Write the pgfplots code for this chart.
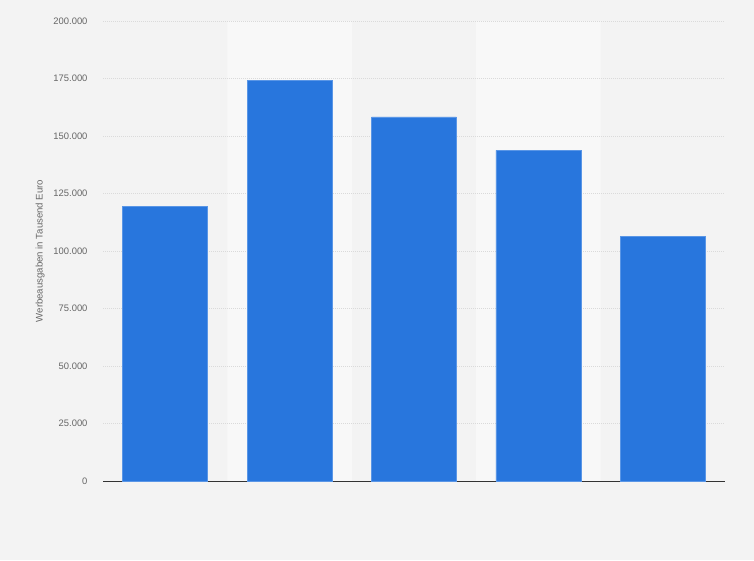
\documentclass[border=0pt]{standalone}
\usepackage{pgfplots}
\pgfplotsset{compat=1.18}
\usepackage{fontspec}
\setmainfont{Liberation Sans}

\definecolor{bg}{HTML}{F3F3F3}
\definecolor{band}{HTML}{F8F8F8}
\definecolor{barblue}{HTML}{2876DD}
\definecolor{baredge}{HTML}{5A96E6}
\definecolor{gridgray}{HTML}{DADADA}
\definecolor{labelgray}{HTML}{666666}
\pagecolor{bg}

\begin{document}
\begin{tikzpicture}
  % canvas size, 1pt = 1px of the reference
  \path (0,0) rectangle (754pt,560pt);
  \begin{axis}[
      set layers,
      at={(103pt,79pt)}, anchor=south west,
      scale only axis,
      width=622pt, height=460pt,
      xmin=-0.5, xmax=4.5,
      ymin=0, ymax=200000,
      ytick distance=25000,
      xtick=\empty,
      major tick length=0pt,
      axis x line=bottom, axis y line=left,
      x axis line style={-, draw=black!80, line width=1pt},
      y axis line style={draw=none},
      ymajorgrids,
      grid style={dash pattern=on 1pt off 1pt, gridgray, line width=0.8pt},
      scaled y ticks=false,
      yticklabel style={
        /pgf/number format/.cd, fixed, 1000 sep={.}, assume math mode=true,
        /tikz/.cd, font=\fontsize{9.4}{11}\selectfont, text=labelgray,
        anchor=east, xshift=-12pt},
      ylabel={Werbeausgaben in Tausend Euro},
      ylabel style={at={(axis description cs:-0.101,0.5)}, anchor=center,
        font=\fontsize{9.6}{11}\selectfont, text=labelgray},
    ]
    % alternating category bands
    \addplot[on layer=axis background, ybar, bar shift=0pt, bar width=1,
      fill=band, draw=none] coordinates {(1,200000) (3,200000)};
    % data
    \addplot[ybar, bar shift=0pt, bar width=0.683,
      fill=barblue, draw=baredge, line width=0.7pt]
      coordinates {(0,119500) (1,174300) (2,158300) (3,143800) (4,106400)};
  \end{axis}
\end{tikzpicture}
\end{document}
